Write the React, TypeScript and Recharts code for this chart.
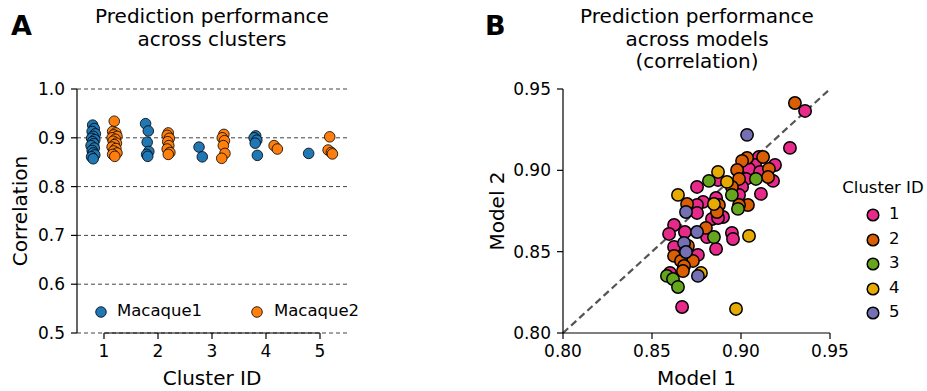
import {
  ScatterChart,
  Scatter,
  XAxis,
  YAxis,
  CartesianGrid,
  ReferenceLine,
  Legend,
  Label,
} from "recharts";

// panel A: cluster position (with strip jitter) and correlation
const clusterTicks = [1, 2, 3, 4, 5];
const corrTicks = [0.5, 0.6, 0.7, 0.8, 0.9, 1.0];

const macaque1: [number, number][] = [
  [0.79, 0.926], [0.82, 0.919], [0.78, 0.913], [0.84, 0.908], [0.8, 0.903],
  [0.77, 0.899], [0.83, 0.896], [0.79, 0.892], [0.81, 0.888], [0.76, 0.884],
  [0.82, 0.879], [0.78, 0.874], [0.8, 0.869], [0.83, 0.865], [0.77, 0.861],
  [0.8, 0.857],
  [1.77, 0.929], [1.82, 0.914], [1.8, 0.891], [1.83, 0.872], [1.79, 0.866], [1.81, 0.862],
  [2.76, 0.881], [2.82, 0.861],
  [3.81, 0.904], [3.78, 0.9], [3.83, 0.895], [3.8, 0.889], [3.84, 0.864],
  [4.79, 0.868],
];

const macaque2: [number, number][] = [
  [1.19, 0.934], [1.16, 0.913], [1.22, 0.91], [1.18, 0.906], [1.24, 0.903],
  [1.15, 0.9], [1.21, 0.897], [1.17, 0.893], [1.23, 0.889], [1.19, 0.886],
  [1.15, 0.881], [1.22, 0.878], [1.18, 0.873], [1.24, 0.869], [1.16, 0.866],
  [1.2, 0.862],
  [2.19, 0.91], [2.17, 0.905], [2.21, 0.899], [2.18, 0.892], [2.2, 0.884],
  [2.17, 0.877], [2.22, 0.87], [2.19, 0.866],
  [3.22, 0.907], [3.19, 0.9], [3.23, 0.894], [3.21, 0.884], [3.24, 0.868], [3.18, 0.858],
  [4.15, 0.884], [4.21, 0.877],
  [5.18, 0.902], [5.15, 0.875], [5.21, 0.87], [5.23, 0.867],
];

// panel B: (model 1, model 2) correlation per cluster
const modelTicks = [0.8, 0.85, 0.9, 0.95];
const clusterIds = ["1", "2", "3", "4", "5"];
const clusterColors = ["#e7298a", "#d95f02", "#66a61e", "#e6ab02", "#7570b3"];

const cluster1: [number, number][] = [
  [0.936, 0.9365], [0.9275, 0.9138], [0.9101, 0.9082], [0.9191, 0.9033], [0.9079, 0.9033],
  [0.9045, 0.9009], [0.9107, 0.899], [0.9028, 0.8947], [0.918, 0.8935], [0.8871, 0.8941],
  [0.8753, 0.8898], [0.9006, 0.8898], [0.9112, 0.8855], [0.8989, 0.8849], [0.8787, 0.8806],
  [0.8753, 0.8787], [0.886, 0.883], [0.8753, 0.8738], [0.8899, 0.8713], [0.8837, 0.8701],
  [0.8871, 0.8707], [0.8809, 0.859], [0.8949, 0.8615], [0.8955, 0.8578], [0.886, 0.8517],
  [0.8758, 0.848], [0.8624, 0.8664], [0.8596, 0.8609], [0.8685, 0.8621], [0.8624, 0.8529],
  [0.8601, 0.8369], [0.8669, 0.816],
];
const cluster2: [number, number][] = [
  [0.9303, 0.9414], [0.9124, 0.9082], [0.9034, 0.9076], [0.9006, 0.9058], [0.9157, 0.9009],
  [0.8978, 0.9002], [0.9152, 0.8959], [0.8989, 0.8947], [0.8949, 0.8898], [0.9039, 0.8787],
  [0.8989, 0.8787], [0.8876, 0.8787], [0.8865, 0.8744], [0.8803, 0.8646], [0.873, 0.8443],
  [0.8697, 0.8793], [0.8702, 0.8535], [0.8624, 0.8474], [0.8663, 0.8443], [0.868, 0.8412],
  [0.8674, 0.8381],
];
const cluster3: [number, number][] = [
  [0.9084, 0.8947], [0.882, 0.8935], [0.8949, 0.8849], [0.8983, 0.8763], [0.8848, 0.859],
  [0.8584, 0.8351], [0.8618, 0.8332], [0.8646, 0.8283],
];
const cluster4: [number, number][] = [
  [0.8871, 0.899], [0.8921, 0.8929], [0.8646, 0.8849], [0.8848, 0.8793], [0.9045, 0.8597],
  [0.8775, 0.8369], [0.8972, 0.8148],
];
const cluster5: [number, number][] = [
  [0.9034, 0.9218], [0.8691, 0.8744], [0.8753, 0.8621], [0.868, 0.8554], [0.8691, 0.8498],
  [0.8758, 0.8351],
];
const clusterPoints = [cluster1, cluster2, cluster3, cluster4, cluster5];

const toXY = (pts: [number, number][]) => pts.map(([x, y]) => ({ x, y }));

const dot = (fill: string, r: number, sw: number) => (p: any) =>
  <circle cx={p.cx} cy={p.cy} r={r} fill={fill} stroke="#000" strokeWidth={sw} />;

const tickStyle = { fill: "#000", fontSize: 17 };

const MacaqueLegend = () => (
  <div style={{ position: "relative", width: 360, height: 30, fontSize: 16.5 }}>
    <svg width={14} height={14} style={{ position: "absolute", left: 94, top: 8 }}>
      <circle cx={7} cy={7} r={5.3} fill="#1f77b4" stroke="#000" strokeWidth={0.8} />
    </svg>
    <span style={{ position: "absolute", left: 117, top: 4 }}>Macaque1</span>
    <svg width={14} height={14} style={{ position: "absolute", left: 250, top: 8 }}>
      <circle cx={7} cy={7} r={5.3} fill="#ff7f0e" stroke="#000" strokeWidth={0.8} />
    </svg>
    <span style={{ position: "absolute", left: 274, top: 4 }}>Macaque2</span>
  </div>
);

const ClusterLegend = () => (
  <div style={{ width: 100, fontSize: 16.5 }}>
    <div style={{ position: "absolute", left: 0, top: 0, width: 90, textAlign: "center" }}>
      Cluster ID
    </div>
    {clusterIds.map((id, i) => (
      <div key={id} style={{ position: "absolute", left: 27, top: 26 + i * 24.5, height: 20 }}>
        <svg width={16} height={16} style={{ position: "absolute", left: 0, top: 3 }}>
          <circle cx={8} cy={8} r={5.8} fill={clusterColors[i]} stroke="#000" strokeWidth={1.5} />
        </svg>
        <span style={{ position: "absolute", left: 24, top: 0 }}>{id}</span>
      </div>
    ))}
  </div>
);

export default function App() {
  return (
    <div
      style={{
        position: "absolute",
        left: 0,
        top: 0,
        width: 927,
        height: 391,
        background: "#fff",
        fontFamily: "'DejaVu Sans', sans-serif",
        color: "#000",
      }}
    >
      <div style={{ position: "absolute", left: 11, top: 10, fontSize: 27, fontWeight: "bold" }}>A</div>
      <div style={{ position: "absolute", left: 485, top: 10, fontSize: 27, fontWeight: "bold" }}>B</div>

      <div
        style={{
          position: "absolute", left: 62, top: 5, width: 300,
          textAlign: "center", fontSize: 20, lineHeight: "23px",
        }}
      >
        Prediction performance<br />across clusters
      </div>
      <div
        style={{
          position: "absolute", left: 547, top: 5, width: 300,
          textAlign: "center", fontSize: 20, lineHeight: "22.5px",
        }}
      >
        Prediction performance<br />across models<br />(correlation)
      </div>

      <div style={{ position: "absolute", left: 0, top: 0 }}>
        <ScatterChart width={360} height={391} margin={{ top: 89, right: 13, bottom: 6, left: 17 }}>
          <CartesianGrid
            horizontal
            vertical={false}
            stroke="#444"
            strokeDasharray="4 3"
            horizontalValues={corrTicks}
          />
          <XAxis
            type="number"
            dataKey="x"
            domain={[0.5, 5.5]}
            ticks={clusterTicks}
            axisLine={false}
            tickLine={{ stroke: "#000", strokeWidth: 1.2 }}
            tickSize={6}
            tickMargin={6}
            tick={tickStyle}
            height={52}
          >
            <Label value="Cluster ID" position="insideBottom" offset={0} style={{ fontSize: 20, fill: "#000" }} />
          </XAxis>
          <YAxis
            type="number"
            dataKey="y"
            domain={[0.5, 1.0]}
            ticks={corrTicks}
            tickFormatter={(v: number) => v.toFixed(1)}
            axisLine={{ stroke: "#000", strokeWidth: 1.2 }}
            tickLine={{ stroke: "#000", strokeWidth: 1.2 }}
            tickSize={6}
            tickMargin={6}
            tick={tickStyle}
            width={60}
          >
            <Label
              value="Correlation"
              angle={-90}
              position="insideLeft"
              offset={3}
              style={{ fontSize: 20, fill: "#000", textAnchor: "middle" }}
            />
          </YAxis>
          <ReferenceLine
            segment={[{ x: 1, y: 0.5 }, { x: 5, y: 0.5 }]}
            stroke="#000"
            strokeWidth={1.2}
            ifOverflow="visible"
          />
          <Scatter
            name="Macaque1"
            data={toXY(macaque1)}
            fill="#1f77b4"
            shape={dot("#1f77b4", 5.3, 0.8)}
            isAnimationActive={false}
          />
          <Scatter
            name="Macaque2"
            data={toXY(macaque2)}
            fill="#ff7f0e"
            shape={dot("#ff7f0e", 5.3, 0.8)}
            isAnimationActive={false}
          />
          <Legend
            layout="vertical"
            align="center"
            verticalAlign="middle"
            wrapperStyle={{ left: 0, top: 297, width: 360 }}
            content={() => <MacaqueLegend />}
          />
        </ScatterChart>
      </div>

      <div style={{ position: "absolute", left: 480, top: 0 }}>
        <ScatterChart width={447} height={391} margin={{ top: 89, right: 97, bottom: 6, left: 10 }}>
          <XAxis
            type="number"
            dataKey="x"
            domain={[0.8, 0.95]}
            ticks={modelTicks}
            tickFormatter={(v: number) => v.toFixed(2)}
            axisLine={{ stroke: "#000", strokeWidth: 1.2 }}
            tickLine={{ stroke: "#000", strokeWidth: 1.2 }}
            tickSize={6}
            tickMargin={6}
            tick={tickStyle}
            height={52}
            allowDataOverflow
          >
            <Label value="Model 1" position="insideBottom" offset={0} style={{ fontSize: 20, fill: "#000" }} />
          </XAxis>
          <YAxis
            type="number"
            dataKey="y"
            domain={[0.8, 0.95]}
            ticks={modelTicks}
            tickFormatter={(v: number) => v.toFixed(2)}
            axisLine={{ stroke: "#000", strokeWidth: 1.2 }}
            tickLine={{ stroke: "#000", strokeWidth: 1.2 }}
            tickSize={6}
            tickMargin={6}
            tick={tickStyle}
            width={73}
            allowDataOverflow
          >
            <Label
              value="Model 2"
              angle={-90}
              position="insideLeft"
              offset={7}
              style={{ fontSize: 20, fill: "#000", textAnchor: "middle" }}
            />
          </YAxis>
          <ReferenceLine
            segment={[{ x: 0.8, y: 0.8 }, { x: 0.95, y: 0.95 }]}
            stroke="#555"
            strokeWidth={2.2}
            strokeDasharray="7 4"
          />
          {clusterIds.map((id, i) => (
            <Scatter
              key={id}
              name={id}
              data={toXY(clusterPoints[i])}
              fill={clusterColors[i]}
              shape={dot(clusterColors[i], 6.2, 1.5)}
              isAnimationActive={false}
            />
          ))}
          <Legend
            layout="vertical"
            align="center"
            verticalAlign="middle"
            wrapperStyle={{ left: 358, top: 178, width: 100 }}
            content={() => <ClusterLegend />}
          />
        </ScatterChart>
      </div>
    </div>
  );
}
